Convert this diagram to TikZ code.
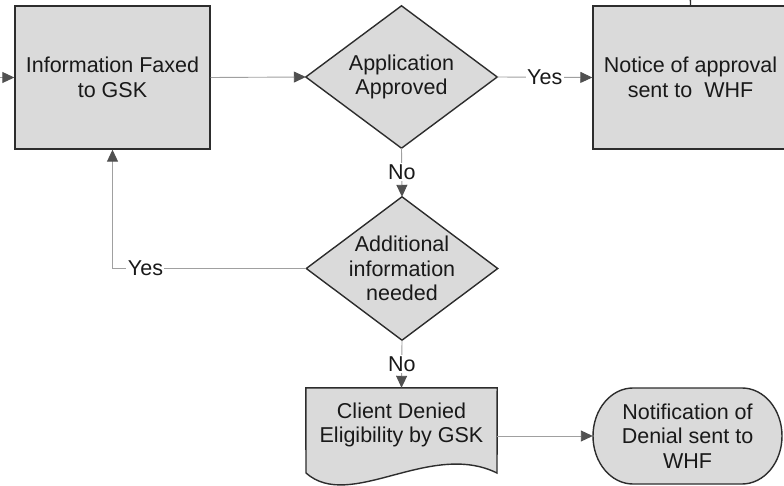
\documentclass[tikz,border=0pt]{standalone}
\usepackage{fontspec}
\setmainfont{Liberation Sans}
\usetikzlibrary{arrows.meta,backgrounds}
\definecolor{boxfill}{RGB}{218,218,218}
\definecolor{boxline}{RGB}{45,45,45}
\definecolor{connline}{RGB}{160,160,160}
\definecolor{tipcol}{RGB}{80,80,80}
\tikzset{
  txt/.style={inner sep=0pt, align=center, font=\fontsize{21.5pt}{24.5pt}\selectfont, text=black!90},
  procbox/.style={txt, draw=boxline, line width=1.4pt, fill=boxfill},
  outline/.style={draw=boxline, line width=1.4pt, fill=boxfill},
  conn/.style={draw=connline, line width=0.9pt, -{Triangle[length=12pt,width=11pt,color=tipcol]}},
  lbl/.style={fill=white, inner sep=1.5pt, font=\fontsize{21.5pt}{24pt}\selectfont, text=black!90}
}
\begin{document}
\begin{tikzpicture}[x=1pt,y=-1pt]
\useasboundingbox (0,0) rectangle (784,486);
% nodes
\node[procbox, minimum width=195pt, minimum height=143pt] (info) at (112.5,77.5) {Information Faxed\\to GSK};
\node[txt, minimum width=191pt, minimum height=142pt] (app) at (401.5,77) {Application\\Approved};
\node[procbox, minimum width=195pt, minimum height=143pt] (notice) at (690.5,77.5) {Notice of approval\\sent to\ \ WHF};
\node[txt, minimum width=191pt, minimum height=143pt] (add) at (402,268.5) {Additional\\information\\needed};
\node[txt, minimum width=191pt, minimum height=74pt] (doc) at (401.5,425) {Client Denied\\Eligibility by GSK};
\node[txt, minimum width=189pt, minimum height=96pt] (term) at (687.5,436) {Notification of\\Denial sent to\\WHF};
\coordinate (inL) at (-30,77.5);
\coordinate (inT) at (690,-30);
\begin{scope}[on background layer]
  \fill[white] (0,0) rectangle (784,486);
  \path[outline] (app.north) -- (app.east) -- (app.south) -- (app.west) -- cycle;
  \path[outline] (add.north) -- (add.east) -- (add.south) -- (add.west) -- cycle;
  \path[outline] (doc.north west) -- (doc.north east) -- (497,473)
     .. controls (430,440) and (350,512) .. (306,473) -- cycle;
  \path[outline] (633,388) -- (742,388) arc[start angle=90, end angle=-90, x radius=40pt, y radius=48pt]
     -- (633,484) arc[start angle=270, end angle=90, x radius=40pt, y radius=48pt] -- cycle;
\end{scope}
% connectors
\draw[conn] (inL) -- (info.west);
\draw[boxline, line width=1.4pt] (inT) -- (notice.north);
\draw[conn] (info.east) -- (app.west);
\draw[conn] (app.east) -- node[lbl] {Yes} (notice.west);
\draw[conn] (app.south) -- node[lbl] {No} (add.north);
\draw[conn] (add.west) -| node[lbl, pos=0.415] {Yes} (info.south);
\draw[conn] (add.south) -- node[lbl] {No} (doc.north);
\draw[conn] (doc.east |- term.west) -- (term.west);
\end{tikzpicture}
\end{document}
